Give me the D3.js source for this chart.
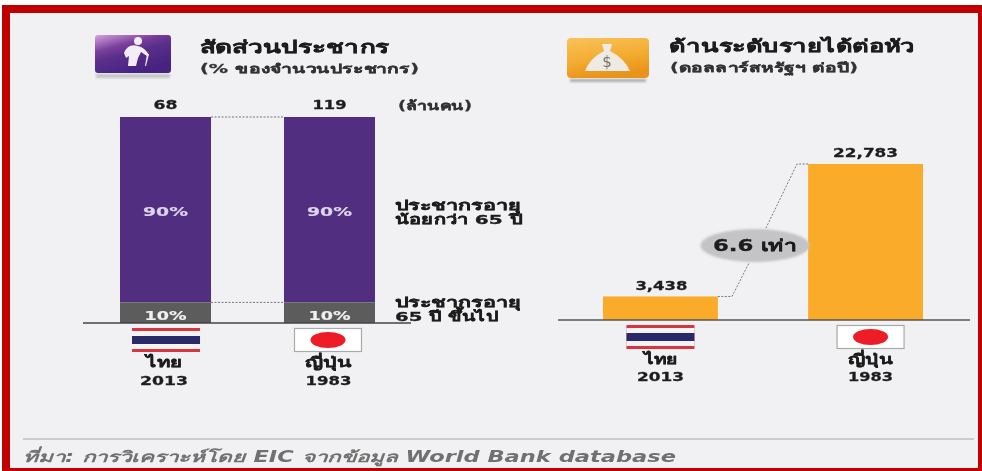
<!DOCTYPE html>
<html><head><meta charset="utf-8">
<script src="https://cdn.jsdelivr.net/npm/d3@7"></script>
<style>
html,body{margin:0;padding:0;background:#fff;overflow:hidden}
svg{display:block}
text{font-family:"DejaVu Sans","Noto Sans","Liberation Sans",sans-serif;font-weight:700;fill:#222}
</style></head><body>
<script>
const countries=["ไทย","ญี่ปุ่น"];
const years=["2013","1983"];
const populationMillions=["68","119"];
const shareUnder65=[90,90];
const share65Plus=[10,10];
const incomePerHead=[3438,22783];
const ratioLabel="6.6 เท่า";
const leftTitle="สัดส่วนประชากร", leftSub="(% ของจำนวนประชากร)", unitLabel="(ล้านคน)";
const rightTitle="ด้านระดับรายได้ต่อหัว", rightSub="(ดอลลาร์สหรัฐฯ ต่อปี)";
const under65Lines=["ประชากรอายุ","น้อยกว่า 65 ปี"];
const over65Lines=["ประชากรอายุ","65 ปี ขึ้นไป"];
const sourceText="ที่มา: การวิเคราะห์โดย EIC จากข้อมูล World Bank database";

const W=982,H=471;
const svg=d3.select("body").append("svg").attr("width",W).attr("height",H);
const defs=svg.append("defs");
const blur=defs.append("filter").attr("id","soft").attr("filterUnits","userSpaceOnUse").attr("x",0).attr("y",0).attr("width",W).attr("height",H);
blur.append("feGaussianBlur").attr("stdDeviation",0.45);
const blur2=defs.append("filter").attr("id","soft2").attr("x","-20%").attr("y","-50%").attr("width","140%").attr("height","200%");
blur2.append("feGaussianBlur").attr("stdDeviation",0.8);
const g1=defs.append("linearGradient").attr("id","pur").attr("x1",0).attr("y1",0).attr("x2",.55).attr("y2",1);
g1.append("stop").attr("offset",0).attr("stop-color","#d9a4dd");
g1.append("stop").attr("offset",.35).attr("stop-color","#7a3f9c");
g1.append("stop").attr("offset",.55).attr("stop-color","#5a2f8c");
g1.append("stop").attr("offset",1).attr("stop-color","#46237f");
const g2=defs.append("linearGradient").attr("id","gold").attr("x1",0).attr("y1",0).attr("x2",.3).attr("y2",1);
g2.append("stop").attr("offset",0).attr("stop-color","#f9c35c");
g2.append("stop").attr("offset",.6).attr("stop-color","#f3ab30");
g2.append("stop").attr("offset",1).attr("stop-color","#e8941a");

svg.append("rect").attr("x",2).attr("y",5).attr("width",W-2).attr("height",H-5).attr("fill","#c00000");
svg.append("rect").attr("x",10).attr("y",13).attr("width",968).attr("height",455).attr("fill","#f1f1f3");

const root=svg.append("g").attr("filter","url(#soft)");
function txt(x,y,s,size,w,opt={}){
  const col=opt.fill||"#1c1c1c";
  return root.append("text").attr("x",x).attr("y",y).attr("dy","0.35em").attr("font-size",size)
    .attr("textLength",w).attr("lengthAdjust","spacingAndGlyphs")
    .attr("text-anchor",opt.anchor||"start").style("fill",col)
    .style("stroke",col).style("stroke-width",opt.stroke===undefined?0.3:opt.stroke)
    .style("font-style",opt.italic?"italic":null).text(s);
}
function dashed(pts){
  root.append("path").attr("d",d3.line()(pts)).attr("fill","none").attr("stroke","#777").attr("stroke-width",1).attr("stroke-dasharray","2 1.5");
}
function flag(cx,top,i){
  const w=68,h=24,x=cx-w/2;
  if(i===0){
    [["#d9363e",0,h],["#f4f4f4",3,h-6],["#2a2a6a",8,h-16]].forEach(([c,dy,hh])=>
      root.append("rect").attr("x",x).attr("y",top+dy).attr("width",w).attr("height",hh).attr("fill",c));
  }else{
    root.append("rect").attr("x",x+.5).attr("y",top+.5).attr("width",w-1).attr("height",h-1).attr("fill","#fff").attr("stroke","#a9a9a9").attr("stroke-width",1.2);
    root.append("ellipse").attr("cx",cx).attr("cy",top+h/2).attr("rx",17.5).attr("ry",8).attr("fill","#ee1c25");
  }
}

/* Left panel */
const xL=d3.scaleBand().domain(countries).range([120,375]).paddingInner(0.445);
const yL=d3.scaleLinear().domain([0,100]).range([323,117]);
root.selectAll(".u").data(countries).join("rect").attr("x",d=>xL(d)).attr("width",xL.bandwidth())
  .attr("y",yL(100)).attr("height",(d,i)=>yL(share65Plus[i])-yL(100)).attr("fill","#512d7f");
root.selectAll(".o").data(countries).join("rect").attr("x",d=>xL(d)).attr("width",xL.bandwidth())
  .attr("y",(d,i)=>yL(share65Plus[i])).attr("height",(d,i)=>yL(0)-yL(share65Plus[i])).attr("fill","#5b5b5b");
const gapL=[xL(countries[0])+xL.bandwidth(),xL(countries[1])];
dashed([[gapL[0],yL(100)],[gapL[1],yL(100)]]);
dashed([[gapL[0],yL(10)],[gapL[1],yL(10)]]);
root.append("line").attr("x1",83).attr("x2",411).attr("y1",yL(0)).attr("y2",yL(0)).attr("stroke","#444").attr("stroke-width",1.3);
const popW=[24,34], nameWL=[35,47], yearW=[48,46], flagOffL=[0.5,-1.5], textOffL=[-1.5,-1];
countries.forEach((c,i)=>{
  const cx=xL(c)+xL.bandwidth()/2;
  txt(cx,105,populationMillions[i],12,popW[i],{anchor:"middle"});
  txt(cx,211,shareUnder65[i]+"%",13,45,{anchor:"middle",fill:"#ded5ea",stroke:0.2});
  txt(cx,315,share65Plus[i]+"%",13,42,{anchor:"middle",fill:"#f0f0f0",stroke:0.2});
  flag(cx+flagOffL[i],328,i);
  txt(cx+textOffL[i],362,c,14,nameWL[i],{anchor:"middle"});
  txt(cx+textOffL[i],380,years[i],13,yearW[i],{anchor:"middle"});
});
txt(398,106,unitLabel,12.5,74,{fill:"#333"});
const underW=[126,127], overW=[126,103];
under65Lines.forEach((s,i)=>txt(395,205+i*14,s,13,underW[i]));
over65Lines.forEach((s,i)=>txt(395,302+i*14.5,s,13,overW[i]));
txt(200,47,leftTitle,17,189);
txt(200,69,leftSub,12.5,219,{fill:"#333"});

/* Right panel */
const xR=d3.scaleBand().domain(countries).range([603,923]).paddingInner(0.44);
const yR=d3.scaleLinear().domain([0,22783]).range([320,164]);
root.selectAll(".i").data(countries).join("rect").attr("x",d=>xR(d)).attr("width",xR.bandwidth())
  .attr("y",(d,i)=>yR(incomePerHead[i])).attr("height",(d,i)=>yR(0)-yR(incomePerHead[i])).attr("fill","#fbab2b");
root.append("line").attr("x1",558).attr("x2",970).attr("y1",yR(0)).attr("y2",yR(0)).attr("stroke","#555").attr("stroke-width",1.3);
const smallRight=xR(countries[0])+xR.bandwidth(), bigLeft=xR(countries[1]);
dashed([[smallRight,yR(incomePerHead[0])],[732,yR(incomePerHead[0])],[749,263]]);
dashed([[bigLeft,yR(incomePerHead[1])],[797,yR(incomePerHead[1])],[766,228]]);
root.append("ellipse").attr("cx",755).attr("cy",245.5).attr("rx",54.5).attr("ry",16.5).attr("fill","#c4c4c6").attr("filter","url(#soft2)");
txt(755,245,ratioLabel,16,84,{anchor:"middle"});
const incW=[52,65], nameWR=[33,45], yearWR=[47,45];
countries.forEach((c,i)=>{
  const cx=xR(c)+xR.bandwidth()/2, off=i?5:0;
  txt(cx+(i?0:1),yR(incomePerHead[i])-11,d3.format(",")(incomePerHead[i]),12.5,incW[i],{anchor:"middle"});
  flag(cx+off,325,i);
  txt(cx+off,359,c,14,nameWR[i],{anchor:"middle"});
  txt(cx+off,376,years[i],13,yearWR[i],{anchor:"middle"});
});
txt(669,46,rightTitle,17,246);
txt(670,68,rightSub,12.5,188,{fill:"#333"});

/* Icons */
root.append("rect").attr("x",96).attr("y",74).attr("width",74).attr("height",4).attr("fill","#c4c4c6").attr("filter","url(#soft2)");
root.append("rect").attr("x",95).attr("y",35).attr("width",76).attr("height",38).attr("rx",3).attr("fill","url(#pur)");
const fig=root.append("g").attr("fill","#f3edf5");
fig.append("circle").attr("cx",138).attr("cy",41).attr("r",4);
fig.append("path").attr("d","M124 53 Q128 43 138 46 Q143 47 147 52 L149 55 L147 56 L141 52 L138 58 L136 66 L131 66 L128 66 L129 56 L126 58 Z");
fig.append("path").attr("d","M147 54 L149 54 L146 66 L145 66 Z");
root.append("rect").attr("x",570).attr("y",79).attr("width",76).attr("height",3).attr("fill","#adadad").attr("filter","url(#soft2)");
root.append("rect").attr("x",567).attr("y",38).attr("width",82).attr("height",40).attr("rx",4).attr("fill","url(#gold)");
root.append("path").attr("d","M602 44 L612 44 L610 51 Q624 58 630 71 L585 71 Q590 58 604 51 Z").attr("fill","#eeeae4");
root.append("text").attr("x",607).attr("y",67).attr("font-size",15).attr("text-anchor","middle").style("fill","#77706a").style("font-weight",400).text("$");

/* Footer */
root.append("line").attr("x1",23).attr("x2",974).attr("y1",439).attr("y2",439).attr("stroke","#a8a8a8").attr("stroke-width",1.2);
txt(23,457,sourceText,15,653,{italic:true,fill:"#707070",stroke:0});
</script>
</body></html>
